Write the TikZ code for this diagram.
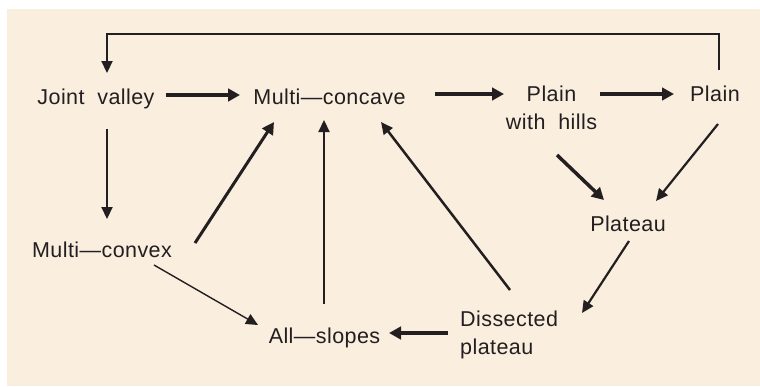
\documentclass[tikz,border=0pt]{standalone}
\usepackage{fontspec}
\setmainfont{Liberation Sans}[LetterSpace=2]
\usetikzlibrary{arrows.meta}
\definecolor{paper}{RGB}{250,238,222}
\definecolor{ink}{RGB}{35,31,32}
\begin{document}
\begin{tikzpicture}[x=1pt,y=-1pt,
  lbl/.style={inner sep=0pt,text=ink,font=\fontsize{21.5pt}{28pt}\selectfont},
  arr/.style={draw=ink,line width=2.2pt,-{Triangle[length=12pt,width=11pt]}},
  heavy/.style={arr,line width=3.5pt,-{Triangle[length=12pt,width=12.5pt]}},
  light/.style={arr,line width=1.4pt}]
  % frame and paper tint
  \useasboundingbox (0,0) rectangle (760,386);
  \fill[white] (0,0) rectangle (760,386);
  \fill[paper] (7,9) rectangle (760,386);

  % landform nodes
  \node[lbl,anchor=base] (jv) at (96,104) {Joint\ \ valley};
  \node[lbl,anchor=base] (mc) at (329.5,104) {Multi—concave};
  \node[lbl,anchor=north,align=center] (pwh) at (551.5,85.5) {Plain\\with\ \ hills};
  \node[lbl,anchor=base] (pr) at (715,101) {Plain};
  \node[lbl,anchor=base] (mx) at (102,257) {Multi—convex};
  \node[lbl,anchor=base] (pl) at (628,231) {Plateau};
  \node[lbl,anchor=north west,align=left] (dp) at (460,310.5) {Dissected\\plateau};
  \node[lbl,anchor=base] (as) at (324.5,343) {All—slopes};

  % transitions
  \draw[arr] ([shift={(4,-31)}]pr.base) |- ([shift={(11,-70)}]jv.base)
             -- ([shift={(11,-31)}]jv.base);
  \draw[heavy] ([shift={(70,-9)}]jv.base) -- ([shift={(-89.5,-9)}]mc.base);
  \draw[heavy] ([shift={(105.5,-10)}]mc.base) -- ([shift={(-47.5,8.5)}]pwh.north);
  \draw[heavy] ([shift={(48.5,8.5)}]pwh.north) -- ([shift={(-41,-7)}]pr.base);
  \draw[arr] ([shift={(11,25)}]jv.base) -- ([shift={(5,-38)}]mx.base);
  \draw[heavy,line width=3pt] ([shift={(93,-14)}]mx.base) -- ([shift={(-55.5,18)}]mc.base);
  \draw[light] ([shift={(52,8)}]mx.base) -- ([shift={(-66.5,-18)}]as.base);
  \draw[arr] ([shift={(-0.5,-39)}]as.base) -- ([shift={(-5.5,16)}]mc.base);
  \draw[arr,line width=2.5pt] ([shift={(50,-20.5)}]dp.north west) -- ([shift={(51.5,18)}]mc.base);
  \draw[heavy] ([shift={(5.5,69.5)}]pwh.north) -- ([shift={(-24,-31)}]pl.base);
  \draw[arr] ([shift={(3,23)}]pr.base) -- ([shift={(28,-30)}]pl.base);
  \draw[arr] ([shift={(1,10)}]pl.base) -- ([shift={(122,2.5)}]dp.north west);
  \draw[heavy] ([shift={(-12,22.5)}]dp.north west) -- ([shift={(64.5,-10)}]as.base);
\end{tikzpicture}
\end{document}
